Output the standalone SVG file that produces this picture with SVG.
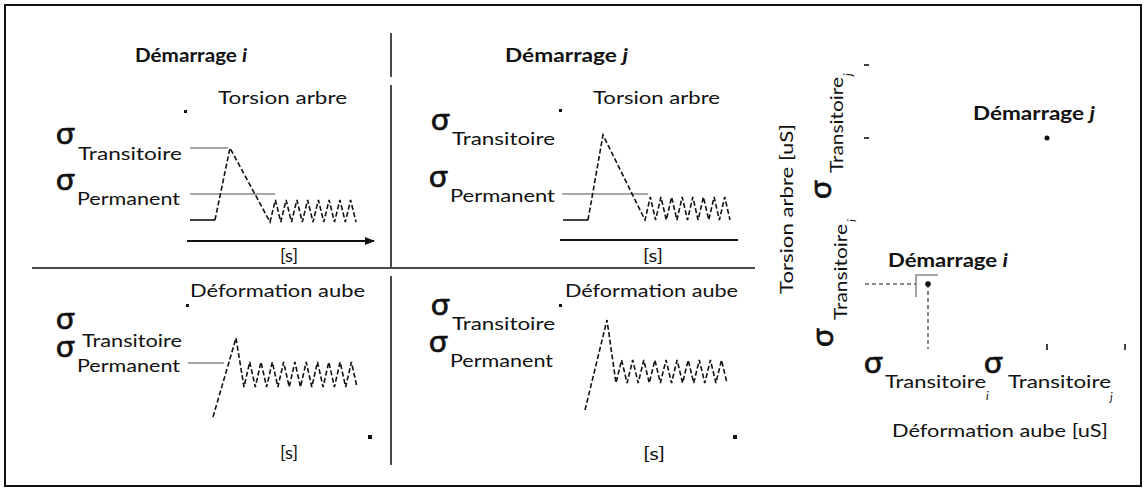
<svg xmlns="http://www.w3.org/2000/svg" width="1147" height="491" viewBox="0 0 1147 491">
  <defs>
    <style>
      .t { font-family: Lato, "Liberation Sans", sans-serif; font-size: 17px; fill: #111; }
      .b { font-weight: bold; font-size: 18px; }
      .sig { font-family: Lato, "Liberation Sans", sans-serif; font-size: 31px; fill: #111; stroke: #111; stroke-width: 0.7; }
      .sub { font-family: Lato, "Liberation Sans", sans-serif; font-size: 12px; font-style: italic; fill: #111; }
      .div { stroke: #4a4a4a; stroke-width: 2; fill: none; }
      .ref { stroke: #8a8a8a; stroke-width: 1.6; fill: none; }
      .sig-line { stroke: #111; stroke-width: 1.6; fill: none; stroke-dasharray: 5 2.5; }
      .solid { stroke: #111; stroke-width: 1.6; fill: none; }
      .axis { stroke: #111; stroke-width: 2; fill: none; }
      .proj { stroke: #666; stroke-width: 1.6; fill: none; stroke-dasharray: 4 3; }
      .mark { fill: #111; }
    </style>
    <marker id="arrow" viewBox="0 0 10 10" refX="9" refY="5" markerWidth="5" markerHeight="5" orient="auto">
      <path d="M0,1 L10,5 L0,9 z" fill="#111"/>
    </marker>
  </defs>

  <rect width="1147" height="491" fill="#fff"/>
  <!-- frame -->
  <rect x="5" y="5" width="1136" height="481" fill="none" stroke="#111" stroke-width="2"/>

  <!-- quadrant dividers -->
  <g id="dividers">
    <line class="div" x1="391" y1="33" x2="391" y2="77"/>
    <line class="div" x1="391" y1="85" x2="391" y2="268"/>
    <line class="div" x1="32" y1="268" x2="755" y2="268"/>
    <line class="div" x1="391" y1="276" x2="391" y2="465"/>
  </g>

  <!-- start i, shaft torsion -->
  <g id="panel-torsion-i">
    <text class="t b" x="135" y="62" textLength="112" lengthAdjust="spacingAndGlyphs">Démarrage <tspan font-style="italic">i</tspan></text>
    <text class="t" x="218" y="104" textLength="129" lengthAdjust="spacingAndGlyphs">Torsion arbre</text>
    <rect class="mark" x="184" y="110" width="3" height="3"/>
    <text class="sig" x="56" y="144">σ</text>
    <text class="t" x="78" y="160" textLength="104" lengthAdjust="spacingAndGlyphs">Transitoire</text>
    <text class="sig" x="56" y="190">σ</text>
    <text class="t" x="77" y="205" textLength="103" lengthAdjust="spacingAndGlyphs">Permanent</text>
    <line class="ref" x1="190" y1="148" x2="228" y2="148"/>
    <line class="ref" x1="190" y1="194" x2="275" y2="194"/>
    <polyline class="solid" points="190,220 215,220"/>
    <polyline class="sig-line" points="215,220 230,148 270,222 275.4,200 280.8,222 286.1,200 291.5,222 296.9,200 302.3,222 307.6,200 313,222 318.4,200 323.8,222 329.1,200 334.5,222 339.9,200 345.3,222 350.6,200 356,222"/>
    <line class="axis" x1="187" y1="241" x2="374" y2="241" marker-end="url(#arrow)"/>
    <text class="t" x="280" y="262" textLength="18" lengthAdjust="spacingAndGlyphs">[s]</text>
  </g>

  <!-- start j, shaft torsion -->
  <g id="panel-torsion-j">
    <text class="t b" x="505" y="62" textLength="123" lengthAdjust="spacingAndGlyphs">Démarrage <tspan font-style="italic">j</tspan></text>
    <text class="t" x="593" y="104" textLength="127" lengthAdjust="spacingAndGlyphs">Torsion arbre</text>
    <rect class="mark" x="559" y="109" width="3" height="3"/>
    <text class="sig" x="431" y="130">σ</text>
    <text class="t" x="452" y="145" textLength="103" lengthAdjust="spacingAndGlyphs">Transitoire</text>
    <text class="sig" x="429" y="187">σ</text>
    <text class="t" x="450" y="202" textLength="105" lengthAdjust="spacingAndGlyphs">Permanent</text>
    <line class="ref" x1="562" y1="194" x2="648" y2="194"/>
    <polyline class="solid" points="563,220 588,220"/>
    <polyline class="sig-line" points="588,220 603,135 645,220 650.3,197 655.6,220 660.9,197 666.3,220 671.6,197 676.9,220 682.2,197 687.5,220 692.8,197 698.1,220 703.4,197 708.8,220 714.1,197 719.4,220 724.7,197 730,220"/>
    <line class="axis" x1="560" y1="240" x2="738" y2="240"/>
    <text class="t" x="643" y="262" textLength="20" lengthAdjust="spacingAndGlyphs">[s]</text>
  </g>

  <!-- start i, blade deformation -->
  <g id="panel-deformation-i">
    <text class="t" x="190" y="297" textLength="175" lengthAdjust="spacingAndGlyphs">Déformation aube</text>
    <rect class="mark" x="186" y="304" width="3" height="3"/>
    <text class="sig" x="56" y="329">σ</text>
    <text class="t" x="82" y="347" textLength="100" lengthAdjust="spacingAndGlyphs">Transitoire</text>
    <text class="sig" x="56" y="357">σ</text>
    <text class="t" x="77" y="372" textLength="103" lengthAdjust="spacingAndGlyphs">Permanent</text>
    <line class="ref" x1="188" y1="363" x2="224" y2="363"/>
    <polyline class="sig-line" points="213,417 236,338 244,387 249.7,362 255.3,387 261,362 266.6,387 272.3,362 277.9,387 283.6,362 289.2,387 294.9,362 300.5,387 306.2,362 311.8,387 317.5,362 323.1,387 328.8,362 334.4,387 340.1,362 345.7,387 351.4,362 357,387"/>
    <rect class="mark" x="368" y="435" width="4" height="4"/>
    <text class="t" x="280" y="459" textLength="18" lengthAdjust="spacingAndGlyphs">[s]</text>
  </g>

  <!-- start j, blade deformation -->
  <g id="panel-deformation-j">
    <text class="t" x="565" y="297" textLength="173" lengthAdjust="spacingAndGlyphs">Déformation aube</text>
    <rect class="mark" x="559" y="304" width="3" height="3"/>
    <text class="sig" x="431" y="315">σ</text>
    <text class="t" x="452" y="330" textLength="103" lengthAdjust="spacingAndGlyphs">Transitoire</text>
    <text class="sig" x="429" y="352">σ</text>
    <text class="t" x="450" y="367" textLength="103" lengthAdjust="spacingAndGlyphs">Permanent</text>
    <polyline class="sig-line" points="585,410 607,320 616,383 621.6,360 627.1,383 632.7,360 638.2,383 643.8,360 649.3,383 654.9,360 660.4,383 666,360 671.5,383 677.1,360 682.6,383 688.2,360 693.7,383 699.3,360 704.8,383 710.4,360 715.9,383 721.5,360 727,383"/>
    <rect class="mark" x="733" y="435" width="4" height="4"/>
    <text class="t" x="643" y="460" textLength="22" lengthAdjust="spacingAndGlyphs">[s]</text>
  </g>

  <!-- torsion vs deformation map -->
  <g id="panel-map">
    <text class="t" transform="translate(793,294) rotate(-90)" textLength="170" lengthAdjust="spacingAndGlyphs">Torsion arbre [uS]</text>

    <text class="sig" transform="translate(831,199) rotate(-90)">σ</text>
    <text class="t" transform="translate(843,173) rotate(-90)" textLength="96" lengthAdjust="spacingAndGlyphs">Transitoire</text>
    <text class="sub" transform="translate(852,76) rotate(-90)">j</text>

    <text class="sig" transform="translate(833,347) rotate(-90)">σ</text>
    <text class="t" transform="translate(847,320) rotate(-90)" textLength="96" lengthAdjust="spacingAndGlyphs">Transitoire</text>
    <text class="sub" transform="translate(856,222) rotate(-90)">i</text>

    <line class="solid" x1="864" y1="65" x2="869" y2="65"/>
    <line class="solid" x1="864" y1="138" x2="869" y2="138"/>
    <line class="solid" x1="1047" y1="344" x2="1047" y2="350"/>
    <line class="solid" x1="1125" y1="344" x2="1125" y2="350"/>

    <text class="t b" x="973" y="120" textLength="122" lengthAdjust="spacingAndGlyphs">Démarrage <tspan font-style="italic">j</tspan></text>
    <circle class="mark" cx="1047" cy="138" r="2.5"/>

    <text class="t b" x="888" y="267" textLength="120" lengthAdjust="spacingAndGlyphs">Démarrage <tspan font-style="italic">i</tspan></text>
    <polyline class="ref" points="938,275 916,275 916,297"/>
    <line class="proj" x1="865" y1="284" x2="916" y2="284"/>
    <line class="proj" x1="928" y1="284" x2="928" y2="349"/>
    <circle class="mark" cx="928" cy="284" r="2.8"/>

    <text class="sig" x="864" y="373">σ</text>
    <text class="t" x="885" y="388" textLength="101" lengthAdjust="spacingAndGlyphs">Transitoire</text>
    <text class="sub" x="986" y="400">i</text>
    <text class="sig" x="984" y="373">σ</text>
    <text class="t" x="1008" y="388" textLength="103" lengthAdjust="spacingAndGlyphs">Transitoire</text>
    <text class="sub" x="1110" y="401">j</text>

    <text class="t" x="892" y="437" textLength="216" lengthAdjust="spacingAndGlyphs">Déformation aube [uS]</text>
  </g>
</svg>
